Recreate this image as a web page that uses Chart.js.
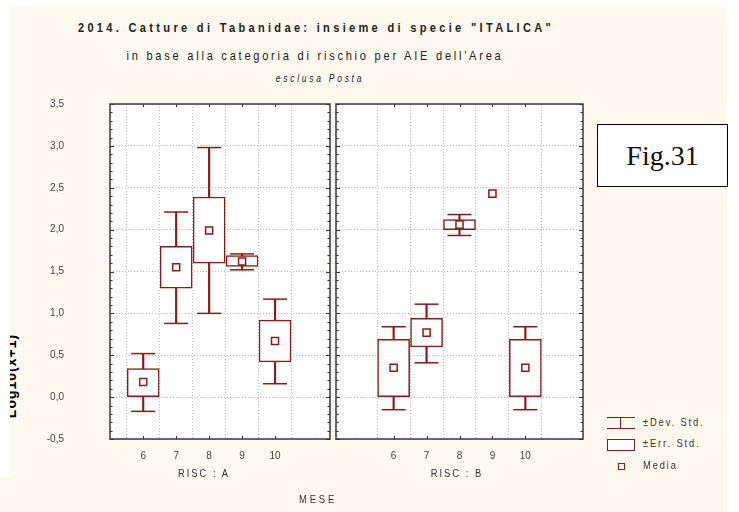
<!DOCTYPE html>
<html>
<head>
<meta charset="utf-8">
<script src="https://cdn.jsdelivr.net/npm/chart.js@4/dist/chart.umd.min.js"></script>
<style>
  body { margin: 0; width: 739px; height: 512px; background: #ffffff; overflow: hidden; position: relative;
         font-family: "Liberation Sans", Arial, sans-serif; color: #222; }
  .crema { position: absolute; background: #fef9ee; }
  .txt { position: absolute; white-space: nowrap; }
  canvas { position: absolute; }
  #figbox { position: absolute; left: 597px; top: 124px; width: 129px; height: 61px; border: 1.5px solid #000; background: #fff;
            font-family: "Liberation Serif", "Times New Roman", serif; font-size: 28px; color: #111;
            display: flex; align-items: center; justify-content: center; }
  .leg { position: absolute; font-size: 11px; letter-spacing: 2.2px; color: #333; transform: scaleX(0.85); transform-origin: left center; white-space: nowrap; }
</style>
</head>
<body>
<div class="crema" style="left:10px; top:7px; width:717px; height:505px;"></div>
<div class="crema" style="left:0; top:477px; width:727px; height:35px;"></div>

<div class="txt" style="left:316px; top:27px; transform: translate(-50%, -50%) scaleX(0.85); font-weight:bold; font-size:13px; letter-spacing:3.9px;">2014. Catture di Tabanidae: insieme di specie "ITALICA"</div>
<div class="txt" style="left:315px; top:55px; transform: translate(-50%, -50%) scaleX(0.85); font-size:13px; letter-spacing:3.25px;">in base alla categoria di rischio per AIE dell'Area</div>
<div class="txt" style="left:320px; top:78px; transform: translate(-50%, -50%) scaleX(0.85); font-size:10px; font-style:italic; letter-spacing:3.2px;">esclusa Posta</div>

<div class="txt" style="left:11px; top:376px; transform: translate(-50%, -50%) rotate(-90deg); font-weight:bold; font-size:14px; letter-spacing:1px; color:#000;">Log10(x+1)</div>
<div style="position:absolute; left:0; top:0; width:10px; height:477px; background:#fff;"></div>

<canvas id="pannelloA" width="333" height="480" style="left:0; top:0;"></canvas>
<canvas id="pannelloB" width="256" height="480" style="left:333px; top:0;"></canvas>

<div id="figbox">Fig.31</div>

<div class="txt" style="left:204px; top:473px; transform: translate(-50%, -50%) scaleX(0.85); font-size:11px; letter-spacing:2.4px; color:#333;">RISC : A</div>
<div class="txt" style="left:457px; top:473px; transform: translate(-50%, -50%) scaleX(0.85); font-size:11px; letter-spacing:2.4px; color:#333;">RISC : B</div>
<div class="txt" style="left:318px; top:499px; transform: translate(-50%, -50%) scaleX(0.85); font-size:11px; letter-spacing:3.4px; color:#333;">MESE</div>

<!-- legenda -->
<div style="position:absolute; left:607px; top:417px; width:28px; height:0; border-top:1.5px solid #8b1a1a;"></div>
<div style="position:absolute; left:620px; top:417px; width:0; height:12px; border-left:1.5px solid #8b1a1a;"></div>
<div style="position:absolute; left:607px; top:428px; width:28px; height:0; border-top:1.5px solid #8b1a1a;"></div>
<div class="leg" style="left:643px; top:416px;">±Dev. Std.</div>
<div style="position:absolute; left:607px; top:439px; width:26px; height:10px; border:1.5px solid #8b1a1a; background:#fff;"></div>
<div class="leg" style="left:643px; top:437px;">±Err. Std.</div>
<div style="position:absolute; left:618px; top:463px; width:5px; height:5px; border:1.5px solid #8b1a1a; background:#fff;"></div>
<div class="leg" style="left:643px; top:459px;">Media</div>

<script>
// valori (log10(x+1))
const mesi = [6, 7, 8, 9, 10];
const yTicks = [-0.5, 0, 0.5, 1, 1.5, 2, 2.5, 3, 3.5];

// RISC : A
const mediaA = [0.18, 1.55, 1.99, 1.62, 0.67];
const errInfA = [0.00, 1.30, 1.60, 1.56, 0.42];
const errSupA = [0.34, 1.80, 2.39, 1.69, 0.92];
const devInfA = [-0.17, 0.88, 1.00, 1.52, 0.16];
const devSupA = [0.52, 2.21, 2.98, 1.71, 1.17];

// RISC : B (mese 9 solo media)
const mediaB = [0.35, 0.77, 2.06, 2.43, 0.35];
const errInfB = [0.00, 0.60, 2.00, null, 0.00];
const errSupB = [0.69, 0.94, 2.12, null, 0.69];
const devInfB = [-0.15, 0.41, 1.93, null, -0.15];
const devSupB = [0.84, 1.11, 2.18, null, 0.84];

const rosso = '#8b1a1a';
const fontTick = { family: '"Liberation Sans", Arial, sans-serif', size: 10 };

// cornice, fondo bianco e tacche minori
const cornice = {
    id: 'cornice',
    beforeDraw(chart) {
        const { ctx, chartArea: a } = chart;
        ctx.save();
        ctx.fillStyle = '#ffffff';
        ctx.fillRect(a.left, a.top, a.right - a.left, a.bottom - a.top);
        ctx.restore();
    },
    afterDraw(chart) {
        const { ctx, chartArea: a, scales } = chart;
        const y = scales.y, x = scales.x;
        ctx.save();
        ctx.strokeStyle = '#333';
        ctx.lineWidth = 1;
        ctx.beginPath();
        for (let v = -5; v <= 35; v++) {
            const py = Math.round(y.getPixelForValue(v / 10)) + 0.5;
            const l = v % 5 === 0 ? 4 : 2.5;
            ctx.moveTo(a.left, py); ctx.lineTo(a.left + l, py);
            ctx.moveTo(a.right, py); ctx.lineTo(a.right - l, py);
        }
        mesi.forEach(m => {
            const px = Math.round(x.getPixelForValue(m)) + 0.5;
            ctx.moveTo(px, a.top); ctx.lineTo(px, a.top + 3);
            ctx.moveTo(px, a.bottom); ctx.lineTo(px, a.bottom - 3);
        });
        ctx.stroke();
        ctx.lineWidth = 1.5;
        ctx.strokeStyle = '#3a3a3a';
        ctx.strokeRect(a.left, a.top, a.right - a.left, a.bottom - a.top);
        ctx.restore();
    }
};

function datiPannello(media, errInf, errSup, devInf, devSup) {
    const scatole = [], steli = [], cappe = [], medie = [];
    mesi.forEach((m, i) => {
        medie.push({ x: m, y: media[i] });
        if (errInf[i] !== null) scatole.push({ x: m, y: [errInf[i], errSup[i]] });
        if (devInf[i] !== null) {
            steli.push({ x: m, y: [devInf[i], devSup[i]] });
            cappe.push({ x: m, y: devInf[i] }, { x: m, y: devSup[i] });
        }
    });
    return [
        { type: 'scatter', data: medie, order: 0, pointStyle: 'rect', pointRadius: 5,
          backgroundColor: '#fff', borderColor: rosso, borderWidth: 1.5 },
        { type: 'bar', data: scatole, order: 1, grouped: false, barThickness: 32,
          backgroundColor: '#fff', borderColor: rosso, borderWidth: 1.5, borderSkipped: false },
        { type: 'scatter', data: cappe, order: 2, pointStyle: 'line', pointRadius: 12,
          borderColor: rosso, borderWidth: 1.5 },
        { type: 'bar', data: steli, order: 3, grouped: false, barThickness: 1.5,
          backgroundColor: rosso, borderWidth: 0 }
    ];
}

function creaPannello(canvasId, datasets, xMin, conEtichetteY, margineDx) {
    const canvas = document.getElementById(canvasId);
    return new Chart(canvas.getContext('2d'), {
        data: { datasets: datasets },
        options: {
            responsive: false,
            animation: false,
            events: [],
            layout: { autoPadding: false, padding: { top: 104, right: margineDx, left: 0, bottom: 0 } },
            plugins: { legend: { display: false }, tooltip: { enabled: false } },
            scales: {
                x: {
                    type: 'linear', min: xMin, max: 11,
                    afterBuildTicks: s => { s.ticks = mesi.map(v => ({ value: v })); },
                    afterFit: s => { s.height = 41; s.paddingLeft = 0; s.paddingRight = 0; },
                    border: { display: false, dash: [1, 2] },
                    grid: { color: '#bdbdbd', drawTicks: false, lineWidth: 1 },
                    ticks: { font: fontTick, color: '#444', padding: 11, maxRotation: 0 }
                },
                y: {
                    min: -0.5, max: 3.5,
                    afterBuildTicks: s => { s.ticks = yTicks.map(v => ({ value: v })); },
                    afterFit: s => { s.width = conEtichetteY ? 110 : 3; s.paddingTop = 0; s.paddingBottom = 0; },
                    border: { display: false, dash: [1, 2] },
                    grid: { color: '#bdbdbd', drawTicks: false, lineWidth: 1 },
                    ticks: {
                        display: conEtichetteY, font: fontTick, color: '#444', padding: 46,
                        callback: v => v.toFixed(1).replace('.', ',')
                    }
                }
            }
        },
        plugins: [cornice]
    });
}

creaPannello('pannelloA', datiPannello(mediaA, errInfA, errSupA, devInfA, devSupA), 5.66, true, 3);
creaPannello('pannelloB', datiPannello(mediaB, errInfB, errSupB, devInfB, devSupB), 5, false, 6);
</script>
</body>
</html>
